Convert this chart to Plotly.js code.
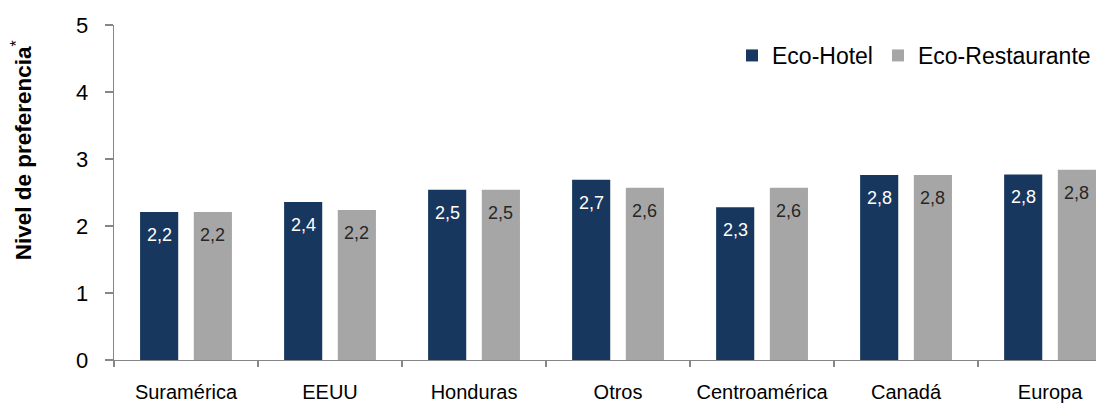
<!DOCTYPE html>
<html>
<head>
<meta charset="utf-8">
<script src="https://cdn.plot.ly/plotly-3.0.1.min.js"></script>
<style>
  html, body { margin: 0; padding: 0; background: #ffffff; }
  #chart { width: 1096px; height: 403px; }
</style>
</head>
<body>
<div id="chart"></div>
<script>
const categories = ["Suramérica", "EEUU", "Honduras", "Otros", "Centroamérica", "Canadá", "Europa"];
const ecoHotel = [2.21, 2.36, 2.54, 2.69, 2.28, 2.76, 2.77];
const ecoRestaurante = [2.21, 2.24, 2.54, 2.57, 2.57, 2.76, 2.84];
const seriesNames = ["Eco-Hotel", "Eco-Restaurante"];
const yTickValues = [0, 1, 2, 3, 4, 5];

const FONT = "Liberation Sans, Arial, sans-serif";
const fmt = v => v.toFixed(1).replace(".", ",");

const traces = [
  { type: "bar", name: seriesNames[0], x: categories, y: ecoHotel,
    marker: { color: "#17375e" }, hoverinfo: "x+y" },
  { type: "bar", name: seriesNames[1], x: categories, y: ecoRestaurante,
    marker: { color: "#a6a6a6" }, hoverinfo: "x+y" }
];

const annotations = [];
categories.forEach((c, i) => {
  annotations.push({ x: c, y: ecoHotel[i], xref: "x", yref: "y", text: fmt(ecoHotel[i]),
    showarrow: false, xshift: -26.8, yshift: -23, yanchor: "middle",
    font: { family: FONT, size: 18, color: "#ffffff" } });
  annotations.push({ x: c, y: ecoRestaurante[i], xref: "x", yref: "y", text: fmt(ecoRestaurante[i]),
    showarrow: false, xshift: 26.8, yshift: -23, yanchor: "middle",
    font: { family: FONT, size: 18, color: "#262626" } });
});
annotations.push({
  text: "<b>Nivel de preferencia</b><sup>*</sup>", textangle: -90,
  xref: "paper", yref: "paper", x: -0.0937, y: 0.626, xanchor: "center", yanchor: "middle",
  showarrow: false, font: { family: FONT, size: 22.5, color: "#000000" }
});

const layout = {
  width: 1096, height: 403,
  margin: { l: 114, r: 0, t: 24.5, b: 43, pad: 0 },
  paper_bgcolor: "#ffffff", plot_bgcolor: "#ffffff",
  font: { family: FONT, color: "#000000" },
  barmode: "group", bargap: 0.254, bargroupgap: 0.29,
  showlegend: true,
  legend: { orientation: "h", x: 1.0, xanchor: "right", y: 0.909, yanchor: "middle",
    font: { family: FONT, size: 23, color: "#000000" }, bgcolor: "rgba(0,0,0,0)",
    itemwidth: 30, traceorder: "normal" },
  xaxis: {
    type: "category", range: [-0.5, 6.319], fixedrange: true,
    showline: true, linecolor: "#868686", linewidth: 1.3,
    ticks: "outside", tickson: "boundaries", ticklen: 6, tickcolor: "#868686", tickwidth: 1.3,
    showgrid: false, zeroline: false,
    tickfont: { family: FONT, size: 20, color: "#000000" }, ticklabelstandoff: 14
  },
  yaxis: {
    range: [0, 5], fixedrange: true, tickvals: yTickValues,
    showline: true, linecolor: "#868686", linewidth: 1.3,
    ticks: "outside", ticklen: 8, tickcolor: "#868686", tickwidth: 1.3,
    showgrid: false, zeroline: false,
    tickfont: { family: FONT, size: 22, color: "#000000" }, ticklabelstandoff: 12
  },
  yaxis2: {
    overlaying: "y", range: [0, 5], tickvals: yTickValues, showticklabels: false,
    ticks: "inside", ticklen: 8, tickcolor: "#868686", tickwidth: 1.3,
    showline: false, showgrid: false, zeroline: false, fixedrange: true
  },
  annotations: annotations
};

Plotly.newPlot("chart", traces, layout, { displayModeBar: false, staticPlot: true });
</script>
</body>
</html>
